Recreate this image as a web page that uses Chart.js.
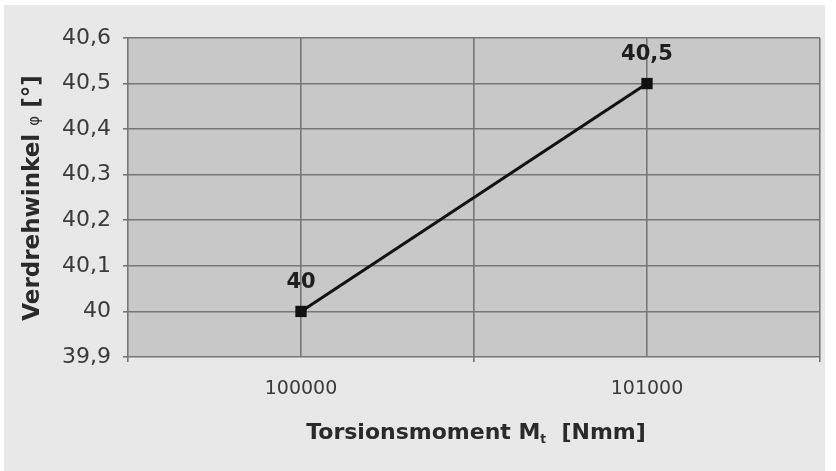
<!DOCTYPE html>
<html>
<head>
<meta charset="utf-8">
<script src="https://cdn.jsdelivr.net/npm/chart.js@4.4.1/dist/chart.umd.min.js"></script>
<style>
  html, body { margin: 0; padding: 0; background: #ffffff; }
  #wrap { width: 836px; height: 471px; position: relative; }
</style>
</head>
<body>
<div id="wrap"><canvas id="c" width="836" height="471"></canvas></div>
<script>
// ---- data ----
const torque = [100000, 101000];          // Torsionsmoment Mt [Nmm]
const angle = [40, 40.5];                 // Verdrehwinkel φ [°]
const pointLabels = ['40', '40,5'];
const xLabelValues = [100000, 101000];
const yTicks = [39.9, 40, 40.1, 40.2, 40.3, 40.4, 40.5, 40.6];

const FONT = "'DejaVu Sans', Verdana, sans-serif";

const bgPlugin = {
  id: 'bg',
  beforeDraw(chart) {
    const ctx = chart.ctx;
    ctx.save();
    ctx.fillStyle = '#e8e8e8';
    ctx.fillRect(4, 5, 821, 466);
    const a = chart.chartArea;
    ctx.fillStyle = '#c8c8c8';
    ctx.fillRect(a.left, a.top, a.right - a.left, a.bottom - a.top);
    ctx.restore();
  }
};

function drawRuns(ctx, runs) {
  let total = 0;
  runs.forEach(r => { ctx.font = r.font; r.w = ctx.measureText(r.text).width; total += r.w; });
  let x = -total / 2;
  runs.forEach(r => {
    ctx.font = r.font;
    ctx.fillText(r.text, x, r.dy || 0);
    x += r.w;
  });
}

const textPlugin = {
  id: 'texts',
  afterDraw(chart) {
    const ctx = chart.ctx;
    ctx.save();
    ctx.fillStyle = '#2a2a2a';
    ctx.textBaseline = 'middle';
    ctx.textAlign = 'left';
    // x title
    ctx.save();
    ctx.translate(476, 433);
    drawRuns(ctx, [
      { text: 'Torsionsmoment M', font: 'bold 22px ' + FONT },
      { text: 't', font: 'bold 12px ' + FONT, dy: 7 },
      { text: '  [Nmm]', font: 'bold 22px ' + FONT }
    ]);
    ctx.restore();
    // y title
    ctx.save();
    ctx.translate(33, 198);
    ctx.rotate(-Math.PI / 2);
    drawRuns(ctx, [
      { text: 'Verdrehwinkel ', font: 'bold 23px ' + FONT },
      { text: 'φ', font: '15px ' + FONT, dy: 2 },
      { text: ' [°]', font: 'bold 23px ' + FONT }
    ]);
    ctx.restore();
    // data labels
    const meta = chart.getDatasetMeta(0);
    ctx.fillStyle = '#1e1e1e';
    ctx.textAlign = 'center';
    ctx.font = 'bold 21px ' + FONT;
    meta.data.forEach((pt, i) => {
      ctx.fillText(pointLabels[i], pt.x, pt.y - 29);
    });
    ctx.restore();
  }
};

new Chart(document.getElementById('c'), {
  type: 'line',
  data: {
    datasets: [{
      data: torque.map((x, i) => ({ x: x, y: angle[i] })),
      borderColor: '#111111',
      borderWidth: 3,
      pointStyle: 'rect',
      pointRadius: 8,
      pointBackgroundColor: '#111111',
      pointBorderColor: '#111111',
      pointBorderWidth: 0,
      tension: 0,
      fill: false
    }]
  },
  plugins: [bgPlugin, textPlugin],
  options: {
    responsive: false,
    animation: false,
    devicePixelRatio: 1,
    layout: { padding: { left: 0, right: 16, top: 38, bottom: 0 } },
    plugins: { legend: { display: false }, tooltip: { enabled: false } },
    scales: {
      x: {
        type: 'linear',
        min: 99500,
        max: 101500,
        afterBuildTicks(scale) {
          const t = [];
          for (let v = 99500; v <= 101500; v += 500) t.push({ value: v });
          scale.ticks = t;
        },
        afterFit(scale) { scale.height = 114; },
        border: { display: false },
        grid: {
          color: '#777777',
          lineWidth: 1.6,
          tickLength: 5,
          tickColor: (c) => (c.tick && (c.tick.value % 1000) === 500) ? '#777777' : 'rgba(0,0,0,0)'
        },
        ticks: {
          autoSkip: false,
          maxRotation: 0,
          padding: 16,
          color: '#3a3a3a',
          font: { family: FONT, size: 19 },
          callback: (v) => xLabelValues.includes(v) ? String(v) : ''
        }
      },
      y: {
        type: 'linear',
        min: 39.9,
        max: 40.6,
        afterBuildTicks(scale) { scale.ticks = yTicks.map(v => ({ value: v })); },
        afterFit(scale) { scale.width = 128; },
        border: { display: false },
        grid: { color: '#777777', lineWidth: 1.6, tickLength: 5, tickColor: '#777777' },
        ticks: {
          padding: 12,
          color: '#3a3a3a',
          font: { family: FONT, size: 22 },
          callback: (v) => {
            let s = (Math.round(v * 10) / 10).toFixed(1);
            if (s.endsWith('.0')) s = s.slice(0, -2);
            return s.replace('.', ',');
          }
        }
      }
    }
  }
});
</script>
</body>
</html>
